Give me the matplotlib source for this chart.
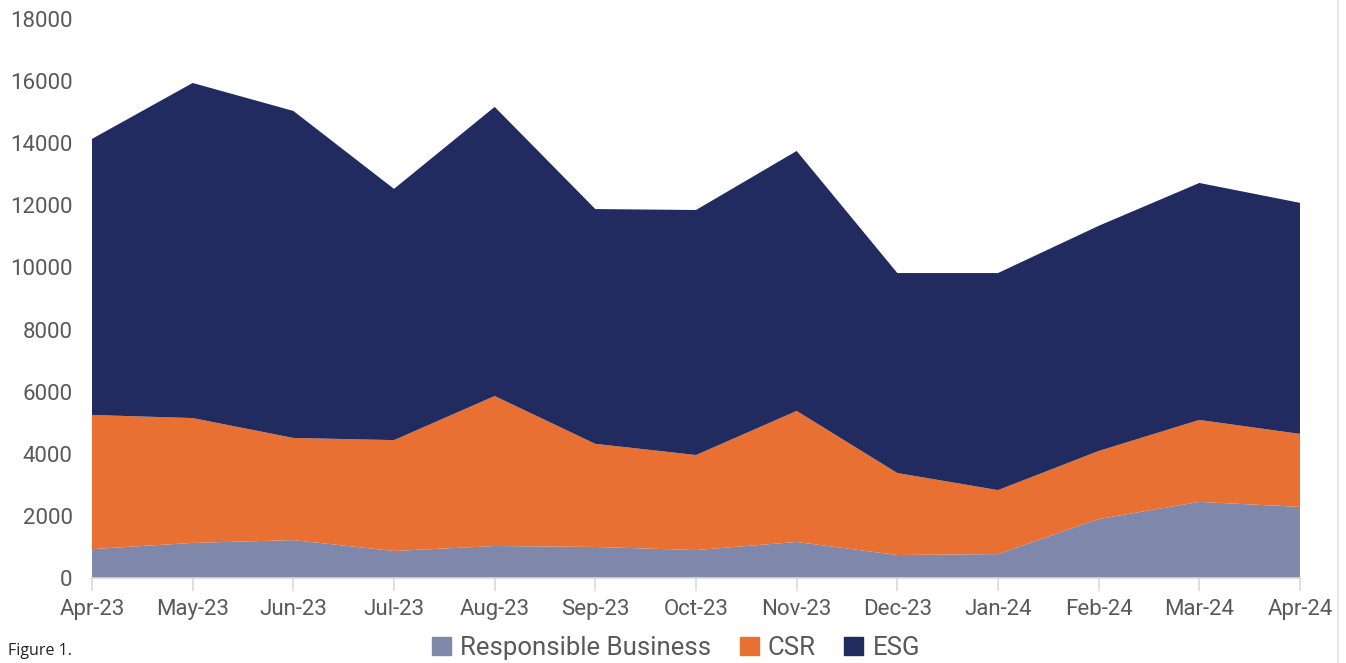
import numpy as np
import matplotlib
matplotlib.use("Agg")
from matplotlib import pyplot as plt
from matplotlib.lines import Line2D

months = ["Apr-23", "May-23", "Jun-23", "Jul-23", "Aug-23", "Sep-23", "Oct-23",
          "Nov-23", "Dec-23", "Jan-24", "Feb-24", "Mar-24", "Apr-24"]
responsible_business = [930, 1130, 1220, 870, 1030, 1000, 900, 1160, 740, 770, 1900, 2450, 2290]
csr = [4320, 4020, 3290, 3570, 4830, 3320, 3060, 4220, 2640, 2060, 2190, 2640, 2350]
esg = [8890, 10790, 10530, 8090, 9310, 7560, 7890, 8370, 6440, 6990, 7250, 7630, 7440]

series_names = ["Responsible Business", "CSR", "ESG"]
colors = ["#7f87aa", "#e87032", "#222b5f"]
yticks = list(range(0, 18001, 2000))

plt.rcParams["font.family"] = ["Roboto", "DejaVu Sans"]

fig = plt.figure(figsize=(13.46, 6.63), dpi=100)
ax = fig.add_axes([92 / 1346, 1 - 578 / 663, (1300 - 92) / 1346, (578 - 19) / 663])

x = np.arange(len(months))
ax.stackplot(x, responsible_business, csr, esg, colors=colors, labels=series_names,
             linewidth=0)

ax.set_xlim(0, len(months) - 1)
ax.set_ylim(0, 18000)
ax.set_xticks(x)
ax.set_xticklabels(months)
ax.set_yticks(yticks)
ax.set_yticklabels([str(t) for t in yticks])

# Axis styling: only a light baseline with small ticks
for side in ["top", "right", "left"]:
    ax.spines[side].set_visible(False)
ax.spines["bottom"].set_color("#d9d9d9")
ax.spines["bottom"].set_linewidth(1.2)
ax.tick_params(axis="x", colors="#d9d9d9", length=9, width=1.2, labelcolor="#595959",
               labelsize=16, pad=6)
ax.tick_params(axis="y", length=0, labelcolor="#595959", labelsize=16, pad=14)
ax.set_axisbelow(False)

handles = [plt.Rectangle((0, 0), 1, 1, color=c) for c in colors]
fig.legend(handles, series_names, loc="center", bbox_to_anchor=(676 / 1346, 1 - 648 / 663),
           ncol=3, frameon=False, fontsize=18.5, handlelength=0.75, handleheight=0.75,
           handletextpad=0.35, columnspacing=1.1, labelcolor="#595959")

fig.text(8 / 1346, 1 - 651 / 663, "Figure 1.", fontsize=11.5, family="Open Sans",
         color="#222222", va="center", ha="left")

# thin frame line at the right edge
fig.add_artist(Line2D([1338 / 1346, 1338 / 1346], [0, 1], color="#e6e6e6", linewidth=1.5,
                      transform=fig.transFigure))

fig.savefig("out.png", dpi=100)
